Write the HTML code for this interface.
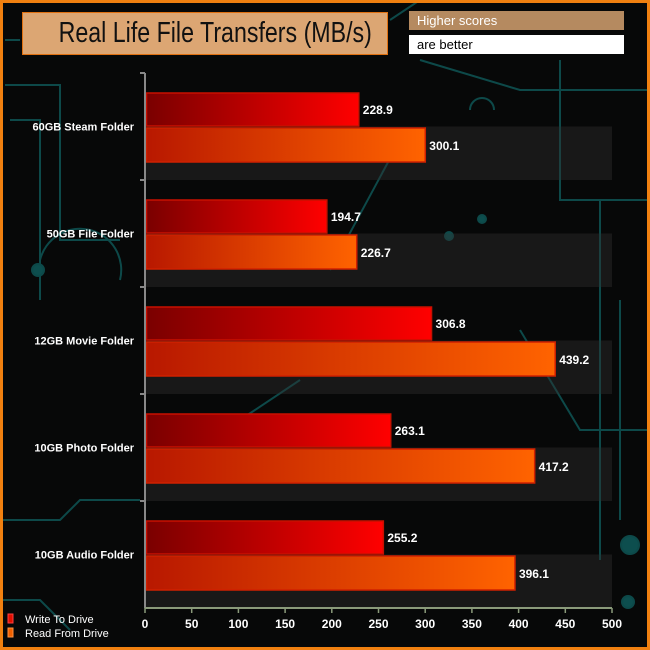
<!DOCTYPE html>
<html><head><meta charset="utf-8"><style>
body{margin:0;background:#000}
#c{position:relative;width:650px;height:650px;background:#070808;overflow:hidden;font-family:"Liberation Sans",sans-serif}
</style></head><body>
<div id="c">
<svg id="s" width="650" height="650">
<defs>
<linearGradient id="gw" x1="0" x2="1"><stop offset="0" stop-color="#7a0000"/><stop offset="1" stop-color="#ff0000"/></linearGradient>
<linearGradient id="gr" x1="0" x2="1"><stop offset="0" stop-color="#b81800"/><stop offset="1" stop-color="#ff6300"/></linearGradient>
</defs>
<g stroke="#0f5a5a" stroke-width="2" fill="none" opacity="0.8">
<path d="M5 40 H20 M5 85 H60 V240 H120 M10 120 H40 V300 M0 520 H60 L80 500 H140 M0 600 H40 L70 630 M390 20 L420 0 M420 60 L520 90 H650 M470 110 A12 12 0 1 1 494 110 M560 60 V200 H650 M600 200 V560 M520 330 L580 430 H650 M400 140 L330 270 M300 380 L240 420 M120 280 A40 40 0 1 0 40 260 M620 300 V520"/>
<circle cx="38" cy="270" r="6" fill="#0f6060"/><circle cx="630" cy="545" r="9" fill="#0f6060"/><circle cx="628" cy="602" r="6" fill="#0f6060"/><circle cx="482" cy="219" r="4" fill="#0f6060"/><circle cx="449" cy="236" r="4" fill="#0f6060"/>
</g>
<g id="bands"></g><g id="bars"></g><g id="axes"></g>
</svg>
<div style="position:absolute;left:22px;top:12px;width:366px;height:43px;background:#dca673;border:1px solid #e07010;box-sizing:border-box;color:#111;overflow:hidden"><div style="white-space:nowrap;font-size:29px;line-height:41px;text-align:center;transform:scaleX(0.8);transform-origin:center;width:366px;margin-left:-1px">Real Life File Transfers (MB/s)</div></div>
<div style="position:absolute;left:409px;top:11px;width:215px;height:19px;background:#b58a60;color:#fff;font-size:13px;line-height:19px;padding-left:8px;box-sizing:border-box">Higher scores</div>
<div style="position:absolute;left:409px;top:35px;width:215px;height:19px;background:#fff;color:#000;font-size:13px;line-height:19px;padding-left:8px;box-sizing:border-box">are better</div>
<div style="position:absolute;left:0;top:0;width:650px;height:650px;border:3px solid #f08010;box-sizing:border-box"></div>
</div>
<script>
const categories=["60GB Steam Folder","50GB File Folder","12GB Movie Folder","10GB Photo Folder","10GB Audio Folder"];
const writeValues=[228.9,194.7,306.8,263.1,255.2];
const readValues=[300.1,226.7,439.2,417.2,396.1];
const xTicks=[0,50,100,150,200,250,300,350,400,450,500];
const seriesNames=["Write To  Drive","Read From  Drive"];
const NS="http://www.w3.org/2000/svg";
const X0=145,X1=612,XMAX=500,TOP=73,BOT=608;
const gh=(BOT-TOP)/categories.length;
function x(v){return X0+(X1-X0)*v/XMAX;}
function mk(t,a,p){const e=document.createElementNS(NS,t);for(const k in a)e.setAttribute(k,a[k]);p.appendChild(e);return e;}
const bands=document.getElementById('bands'),bars=document.getElementById('bars'),axes=document.getElementById('axes');
categories.forEach((c,i)=>{
 const y0=TOP+gh*i;
 const b=mk('rect',{x:X0,y:y0+gh/2,width:X1-X0,height:gh/2,fill:'rgba(50,50,50,0.4)'},bands);
 
 
 const w=mk('rect',{x:X0+1.5,y:y0+20,width:x(writeValues[i])-X0-1.5,height:33,fill:'url(#gw)',stroke:'#c81000','stroke-width':1.5},bars);
 
 
 const r=mk('rect',{x:X0+1.5,y:y0+55,width:x(readValues[i])-X0-1.5,height:34,fill:'url(#gr)',stroke:'#d02000','stroke-width':1.5},bars);
 
 
 const t1=mk('text',{x:x(writeValues[i])+4,y:y0+41,fill:'#fff','font-size':12,'font-weight':'bold'},bars);t1.textContent=writeValues[i].toFixed(1);
 
 
 const t2=mk('text',{x:x(readValues[i])+4,y:y0+77,fill:'#fff','font-size':12,'font-weight':'bold'},bars);t2.textContent=readValues[i].toFixed(1);
 
 
 const cl=mk('text',{x:134,y:y0+gh/2+4,fill:'#fff','font-size':11,'font-weight':'bold','text-anchor':'end'},axes);cl.textContent=c;
 
 
 mk('line',{x1:140,x2:145,y1:y0,y2:y0,stroke:'#888','stroke-width':2},axes);
});
mk('line',{x1:145,x2:145,y1:TOP,y2:BOT,stroke:'#888','stroke-width':2},axes);
mk('line',{x1:145,x2:X1,y1:BOT,y2:BOT,stroke:'#8a9a7a','stroke-width':2},axes);
xTicks.forEach(v=>{
 mk('line',{x1:x(v),x2:x(v),y1:BOT,y2:BOT+5,stroke:'#8a9a7a','stroke-width':1.5},axes);
 const t=mk('text',{x:x(v),y:628,fill:'#fff','font-size':12,'font-weight':'bold','text-anchor':'middle'},axes);t.textContent=v;
 
 
});
seriesNames.forEach((n,i)=>{
 const y=620+i*14;
 const sw=mk('rect',{x:8,y:y-6,width:5,height:9,fill:i?'#f06000':'#e01000',stroke:i?'#ff9040':'#ff4040','stroke-width':1},axes);
 
 
 const t=mk('text',{x:25,y:y+3,fill:'#fff','font-size':11},axes);t.textContent=n;
 
 
});
</script>
</body></html>
